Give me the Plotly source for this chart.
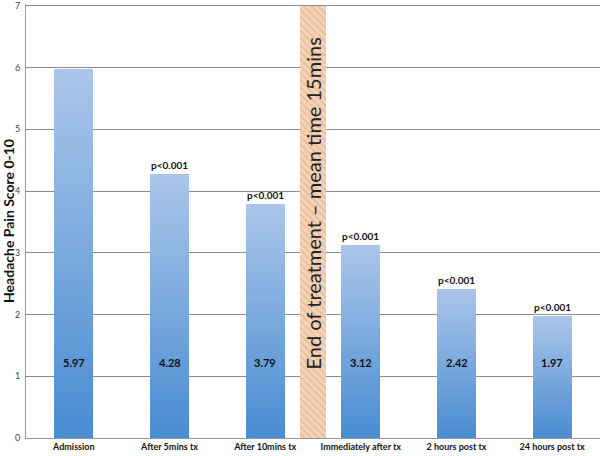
import plotly.graph_objects as go

categories = ["Admission", "After 5mins tx", "After 10mins tx",
              "Immediately after tx", "2 hours post tx", "24 hours post tx"]
scores = [5.97, 4.28, 3.79, 3.12, 2.42, 1.97]
pvals = ["", "p<0.001", "p<0.001", "p<0.001", "p<0.001", "p<0.001"]
band_label = "End of treatment \u2013 mean time 15mins"
y_ticks = [0, 1, 2, 3, 4, 5, 6, 7]

FONT = "Lato"
top_rgb = (171, 198, 233)
bot_rgb = (72, 140, 210)
N = 40

fig = go.Figure()
for k in range(N):
    t = (k + 0.5) / N
    c = tuple(round(bot_rgb[j] + (top_rgb[j] - bot_rgb[j]) * t) for j in range(3))
    fig.add_trace(go.Bar(
        x=categories,
        y=[v / N * 1.02 for v in scores],
        base=[v * k / N for v in scores],
        marker=dict(color="rgb(%d,%d,%d)" % c, line=dict(width=0)),
        width=0.41, hoverinfo="skip", showlegend=False,
    ))

# treatment band on an overlaid numeric axis
fig.add_trace(go.Bar(
    x=[2.5], y=[7], base=[0], width=0.27, xaxis="x2",
    marker=dict(color="#F4D3B7", line=dict(width=0),
                pattern=dict(shape="\\", fgcolor="#DFA883", bgcolor="#F4D3B7",
                             size=5, solidity=0.35)),
    hoverinfo="skip", showlegend=False,
))

annotations = []
for c, v, p in zip(categories, scores, pvals):
    annotations.append(dict(x=c, y=1.22, text="<b>%.2f</b>" % v, showarrow=False,
                            font=dict(family=FONT, size=11, color="#111")))
    if p:
        annotations.append(dict(x=c, y=v, yshift=9, text="<b>%s</b>" % p, showarrow=False,
                                font=dict(family=FONT, size=10, color="#111")))
annotations.append(dict(x=2.5, y=3.8, xref="x2", yref="y", text=band_label,
                        textangle=-90, showarrow=False,
                        font=dict(family=FONT, size=20, color="#222")))

fig.update_layout(
    width=600, height=456,
    margin=dict(l=26, r=0, t=1, b=18),
    plot_bgcolor="white", paper_bgcolor="white",
    barmode="overlay", bargap=0,
    font=dict(family=FONT, size=9, color="#333"),
    xaxis=dict(type="category", showgrid=False, showline=True, linecolor="#999",
               linewidth=1, ticks="", tickfont=dict(family=FONT, size=9, color="#111"),
               tickprefix="<b>", ticksuffix="</b>", range=[-0.5, 5.5]),
    xaxis2=dict(overlaying="x", range=[-0.5, 5.5], visible=False),
    yaxis=dict(range=[0, 7.03], tickvals=y_ticks, showgrid=True, gridcolor="#8c8c8c",
               gridwidth=1, showline=True, linecolor="#999", linewidth=1,
               ticks="", ticklen=0, ticklabelstandoff=3, ticklabeloverflow="allow",
               tickfont=dict(family=FONT, size=9, color="#444"),
               title=dict(text="<b>Headache Pain Score 0-10</b>", standoff=5,
                          font=dict(family=FONT, size=14, color="#111")),
               zeroline=False),
    annotations=annotations,
)
fig.write_html("out.html", config={"displayModeBar": False},
               post_script="document.body.style.margin='0';")
